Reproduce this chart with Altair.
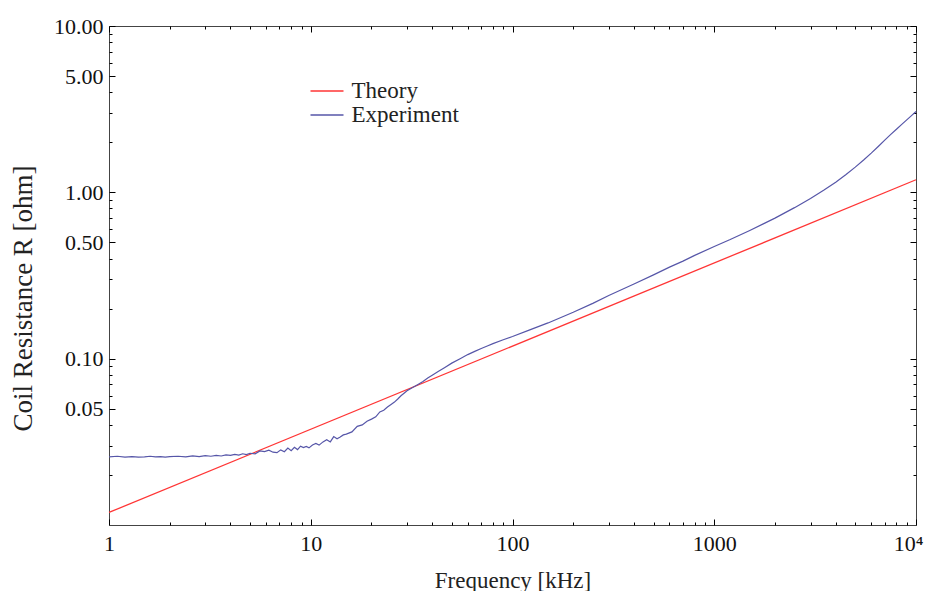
import altair as alt
import pandas as pd

# ---------------- data ----------------
theory_f = [1, 10000]
theory_r = [0.0119, 1.19]

exp_f = [1.0, 1.1, 1.2, 1.3, 1.4, 1.5, 1.6, 1.7, 1.8, 1.9, 2.0, 2.2, 2.4, 2.6, 2.8,
         3.0, 3.2, 3.4, 3.6, 3.8, 4.0, 4.2, 4.4, 4.6, 4.8, 5.0, 5.3, 5.6, 5.9, 6.2,
         6.5, 6.8, 7.1, 7.4, 7.7, 8.0, 8.3, 8.6, 8.9, 9.2, 9.5, 9.8, 10.2, 10.6, 11,
         11.5, 12, 12.5, 13, 13.5, 14, 14.5, 15, 16, 17, 18, 19, 20, 21, 22, 23, 24,
         25, 26, 27, 28, 29, 30, 32, 34, 36, 38, 40, 43, 46, 50, 55, 60, 65, 70, 75,
         80, 90, 100, 120, 150, 200, 250, 300, 400, 500, 600, 700, 800, 1000, 1200,
         1500, 2000, 2500, 3000, 3500, 4000, 4500, 5000, 5500, 6000, 6500, 7000,
         7500, 8000, 8500, 9000, 9500, 10000]
exp_r = [0.0257, 0.0259, 0.0256, 0.0258, 0.0256, 0.0257, 0.0259, 0.0257, 0.0258, 0.0256,
         0.0258, 0.0259, 0.0257, 0.0260, 0.0258, 0.0261, 0.0259, 0.0262, 0.0260, 0.0264,
         0.0262, 0.0266, 0.0263, 0.0268, 0.0265, 0.0270, 0.0268, 0.0279, 0.0276, 0.0282,
         0.0274, 0.0272, 0.0283, 0.0276, 0.0290, 0.0280, 0.0293, 0.0284, 0.0298, 0.0292,
         0.0297, 0.0291, 0.0303, 0.0309, 0.0302, 0.0316, 0.0326, 0.0316, 0.0340, 0.0330,
         0.0338, 0.0348, 0.0352, 0.0363, 0.0392, 0.0400, 0.0420, 0.0433, 0.0447, 0.0478,
         0.0490, 0.0512, 0.0530, 0.0548, 0.0572, 0.0598, 0.0620, 0.0642, 0.0670, 0.0700,
         0.0730, 0.0765, 0.0795, 0.0839, 0.0883, 0.0940, 0.1000, 0.1058, 0.1106, 0.1152,
         0.1192, 0.1231, 0.1300, 0.1360, 0.1480, 0.1640, 0.1900, 0.2150, 0.2400, 0.2810,
         0.3190, 0.3550, 0.3860, 0.4180, 0.4720, 0.5200, 0.5900, 0.7000, 0.8090, 0.9190,
         1.0320, 1.1510, 1.2800, 1.4170, 1.5640, 1.7210, 1.8870, 2.0590, 2.2290, 2.3960,
         2.5610, 2.7270, 2.8940, 3.0620]

series_names = ["Theory", "Experiment"]
series_colors = ["#ff3535", "#5656a8"]

x_major = [1, 10, 100, 1000, 10000]
x_minor = [2, 3, 4, 5, 6, 7, 8, 9,
           20, 30, 40, 50, 60, 70, 80, 90,
           200, 300, 400, 500, 600, 700, 800, 900,
           2000, 3000, 4000, 5000, 6000, 7000, 8000, 9000]
y_major = [0.05, 0.1, 0.5, 1, 5, 10]
y_minor = [0.02, 0.03, 0.04, 0.06, 0.07, 0.08, 0.09,
           0.2, 0.3, 0.4, 0.6, 0.7, 0.8, 0.9,
           2, 3, 4, 6, 7, 8, 9]

x_title = "Frequency [kHz]"
y_title = "Coil Resistance R [ohm]"

theory_df = pd.DataFrame({"f": theory_f, "r": theory_r, "series": series_names[0]})
exp_df = pd.DataFrame({"f": exp_f, "r": exp_r, "series": series_names[1]})

FONT = "Liberation Serif"
MAJ = 6
MIN = 3

xs = alt.Scale(type="log", domain=[1, 10000], nice=False)
ys = alt.Scale(type="log", domain=[0.01, 10], nice=False)


def ax(orient, values, size, labels=False, **kw):
    return alt.Axis(orient=orient, values=values, tickSize=size, offset=-size,
                    domain=False, grid=False, labels=labels, ticks=True,
                    tickColor="#000", tickWidth=1, labelFlush=False,
                    labelOverlap=False, labelBound=False, **kw)


bottom_major = ax("bottom", x_major, MAJ, labels=True,
                  labelExpr="datum.value >= 10000 ? '10\u2074' : format(datum.value, 'd')",
                  labelAlign={"condition": {"test": "datum.value >= 10000", "value": "right"},
                              "value": "center"},
                  labelOffset={"condition": {"test": "datum.value >= 10000", "value": 7},
                               "value": 0},
                  labelFont=FONT, labelFontSize=22, labelColor="#111", labelPadding=8,
                  titleFont=FONT, titleFontSize=23, titleFontWeight="normal",
                  titleColor="#222", titleY=68, titleBaseline="alphabetic")
left_major = ax("left", y_major, MAJ, labels=True, format=".2f",
                labelFont=FONT, labelFontSize=22, labelColor="#111", labelPadding=6,
                titleFont=FONT, titleFontSize=27, titleFontWeight="normal",
                titleColor="#222", titleAngle=270, titleX=-84, titleY=272,
                titleAlign="center", titleBaseline="alphabetic")

color = alt.Color("series:N",
                  scale=alt.Scale(domain=series_names, range=series_colors),
                  legend=alt.Legend(orient="none", legendX=206.5, legendY=53.5, title=None,
                                    symbolType="M-3,0H3", symbolSize=121,
                                    symbolStrokeWidth=1.3, labelFont=FONT,
                                    labelFontSize=23, labelColor="#222",
                                    labelOffset=13, rowPadding=0, padding=0))

theory = alt.Chart(theory_df).mark_line(strokeWidth=1.3).encode(
    x=alt.X("f:Q", scale=xs, axis=bottom_major, title=x_title),
    y=alt.Y("r:Q", scale=ys, axis=left_major, title=y_title),
    color=color,
)

experiment = alt.Chart(exp_df).mark_line(strokeWidth=1.2).encode(
    x=alt.X("f:Q", scale=xs, axis=ax("bottom", x_minor, MIN), title=None),
    y=alt.Y("r:Q", scale=ys, axis=ax("left", y_minor, MIN), title=None),
    color=color,
)

frame_major = alt.Chart(exp_df).mark_line(strokeOpacity=0).encode(
    x=alt.X("f:Q", scale=xs, axis=ax("top", x_major, MAJ), title=None),
    y=alt.Y("r:Q", scale=ys, axis=ax("right", y_major, MAJ), title=None),
)

frame_minor = alt.Chart(exp_df).mark_line(strokeOpacity=0).encode(
    x=alt.X("f:Q", scale=xs, axis=ax("top", x_minor, MIN), title=None),
    y=alt.Y("r:Q", scale=ys, axis=ax("right", y_minor, MIN), title=None),
)

chart = alt.layer(theory, experiment, frame_major, frame_minor).resolve_axis(
    x="independent", y="independent"
).properties(
    width=807, height=499,
    autosize=alt.AutoSizeParams(type="none"),
    padding={"left": 101, "top": 18, "right": 8, "bottom": 66},
    background="white",
).configure_view(stroke="#444", strokeWidth=1)

chart.save("out.html", embed_options={"renderer": "svg", "actions": False})
